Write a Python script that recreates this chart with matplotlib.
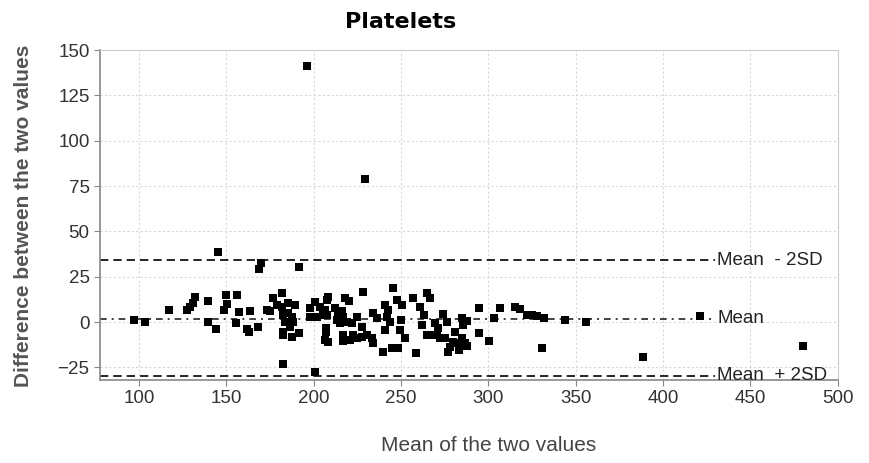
import matplotlib.pyplot as plt

# mean of the two values, difference between the two values
mean_vals = [
    196.4, 229.3, 145.1, 169.7, 168.5, 191.8,
    97.3, 103.6, 117.0, 127.3, 129.2, 130.8, 132.2,
    139.7, 139.7, 144.0, 149.6, 156.0, 150.2, 148.6,
    157.4, 163.4, 155.8, 161.7, 162.8, 168.0,
    176.9, 181.7, 178.9, 175.0, 173.1,
    181.7, 185.5, 189.3, 182.6, 185.5, 187.5, 183.6, 188.0, 186.5,
    182.6, 182.3, 187.5, 191.8, 182.3, 200.8,
    197.9, 200.8, 203.7, 201.8, 197.9, 205.6, 207.9, 206.5,
    206.5, 208.4,
    228.1, 245.3, 208.4, 218.0, 220.4, 205.6, 207.5,
    212.3, 214.2, 216.1, 217.0, 213.2, 215.1, 219.0, 221.8, 224.7,
    207.1, 207.1,
    217.0, 217.0, 220.8, 222.7, 224.7, 227.5, 227.5, 230.3, 233.2, 234.2,
    234.2, 236.1, 240.9, 242.8, 241.9, 243.8,
    240.9, 239.9, 244.7, 248.5, 249.5,
    247.6, 250.5, 249.9, 252.3,
    256.8, 260.9, 263.2, 261.9, 264.8, 264.8, 258.6, 266.7,
    274.3, 276.2, 269.5, 271.4, 266.7, 270.5, 272.4,
    275.3, 278.1, 281.0, 280.0, 282.9, 284.8, 286.7, 283.4, 277.1,
    284.8, 287.7, 285.7, 287.7, 283.8,
    294.9, 303.3, 306.8, 294.9, 300.6,
    315.4, 318.2, 322.4, 324.9, 327.8, 332.0,
    344.0, 356.0, 330.6, 421.3, 388.5, 480.5,
]
diff_vals = [
    141.4, 79.0, 38.6, 32.4, 29.4, 30.5,
    1.1, -0.2, 6.4, 6.6, 8.1, 10.6, 14.0,
    11.7, -0.2, -4.0, 14.8, 14.8, 9.9, 6.6,
    5.4, 6.2, -0.7, -4.0, -5.3, -2.7,
    13.1, 15.8, 9.4, 6.1, 6.6,
    8.4, 10.3, 9.4, 3.9, 4.8, 2.9, 0.2, -0.2, -2.6,
    -5.3, -7.2, -8.1, -6.2, -23.3, -27.4,
    7.6, 11.2, 8.4, 2.9, 2.9, 3.9, 12.1, 6.6,
    -9.9, -10.9,
    16.7, 18.9, 14.0, 13.4, 11.6, 5.7, 3.9,
    7.9, 4.8, 6.1, 2.9, 1.1, -0.7, 0.2, -0.7, 2.9,
    -3.1, -5.3,
    -7.2, -10.5, -9.9, -7.2, -9.0, -2.6, -8.1, -7.2, -9.0, -11.7,
    4.8, 2.0, 9.4, 6.6, 2.9, 0.2,
    -4.4, -16.4, -14.5, -14.5, -4.4,
    12.1, 9.4, 1.1, -9.0,
    13.1, 8.4, 3.9, -1.7, 15.8, -7.2, -17.3, 13.1,
    4.2, 0.2, -0.7, -3.5, -7.2, -7.2, -9.0,
    -9.0, -13.6, -5.3, -10.9, -11.7, -9.0, -11.7, -15.4, -16.4,
    2.0, 0.6, -1.7, -13.2, -11.7,
    7.6, 2.4, 7.6, -5.9, -10.5,
    8.4, 7.2, 3.9, 3.9, 3.3, 2.4,
    1.1, -0.2, -14.5, 3.3, -19.5, -13.2,
]

mean_diff = 1.8
upper_line = 34.2
lower_line = -29.6
x_ticks = [100, 150, 200, 250, 300, 350, 400, 450, 500]
y_ticks = [-25, 0, 25, 50, 75, 100, 125, 150]

plt.rcParams['font.family'] = ['Liberation Sans', 'DejaVu Sans']

fig = plt.figure(figsize=(8.69, 4.63), dpi=100)
fig.patch.set_facecolor('white')
ax = fig.add_axes([0.1151, 0.1803, 0.8493, 0.7117])

ax.set_xlim(77.7, 500.3)
ax.set_ylim(-31.7, 150.0)
ax.set_xticks(x_ticks)
ax.set_yticks(y_ticks)
ax.grid(True, color='#d8d8d8', linestyle=(0, (2, 2)), linewidth=0.8)
ax.set_axisbelow(True)

ax.scatter(mean_vals, diff_vals, marker='s', s=32, color='black', linewidths=0, zorder=3)

line_end = 430
ax.plot([77.7, line_end], [upper_line, upper_line], color='black', linestyle=(0, (5, 3)), linewidth=1.2)
ax.plot([77.7, line_end], [lower_line, lower_line], color='black', linestyle=(0, (5, 3)), linewidth=1.2)
ax.plot([77.7, line_end], [mean_diff, mean_diff], color='#222222',
        linestyle=(0, (4, 3, 1.2, 3)), linewidth=1.2)

ax.text(431, upper_line, 'Mean  - 2SD', fontsize=13.5, va='center', ha='left', color='#222222')
ax.text(431, mean_diff, 'Mean', fontsize=13.5, va='center', ha='left', color='#222222')
ax.text(431, lower_line, 'Mean  + 2SD', fontsize=13.5, va='center', ha='left', color='#222222')

for side in ['top', 'right']:
    ax.spines[side].set_color('#cccccc')
for side in ['left', 'bottom']:
    ax.spines[side].set_color('#888888')
    ax.spines[side].set_linewidth(1.2)
ax.tick_params(axis='both', colors='#888888', length=4, labelcolor='#333333', labelsize=13.5)

ax.set_xlabel('Mean of the two values', fontsize=15, color='#444444', va='center')
ax.xaxis.set_label_coords(0.527, -0.2)
ax.set_ylabel('Difference between the two values', fontsize=15, color='#555555',
              fontweight='bold')
ax.yaxis.set_label_coords(-0.091, 0.496)

fig.text(401 / 869, 1 - 22 / 463, 'Platelets', fontsize=16, fontweight='bold',
         ha='center', va='center', family='DejaVu Sans')

fig.savefig('out.png', dpi=100)
